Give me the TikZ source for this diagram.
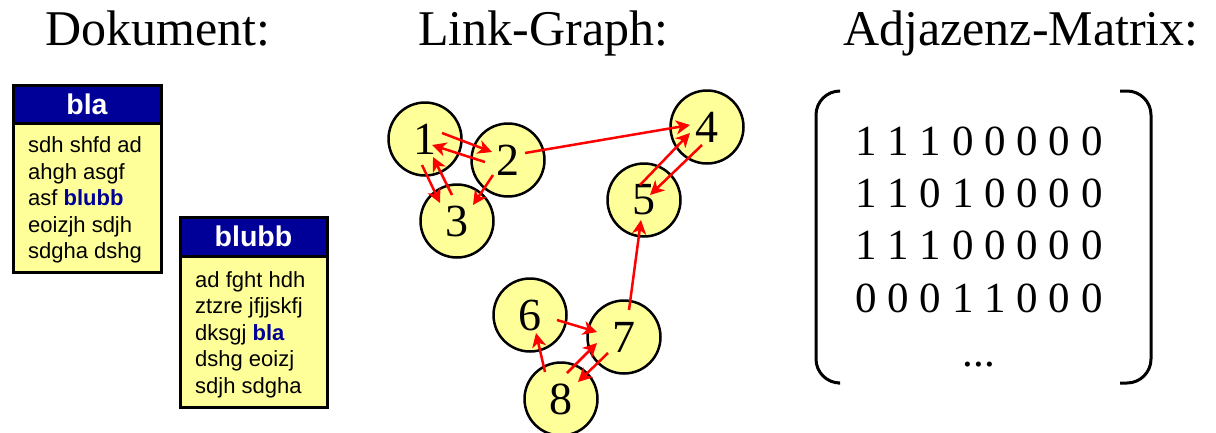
\documentclass[tikz,border=0pt]{standalone}
\usepackage{fontspec}
\setmainfont{Liberation Serif}
\newfontfamily\arialfont{Liberation Sans}
\usetikzlibrary{calc,arrows.meta}
\definecolor{paleyellow}{HTML}{FFFF99}
\definecolor{headblue}{HTML}{000099}
\begin{document}
\begin{tikzpicture}[x=1pt,y=-1pt,
  title/.style={font=\fontsize{50}{60}\selectfont, anchor=base west, inner sep=0},
  boxframe/.style={draw=black, line width=3pt, fill=paleyellow},
  headframe/.style={draw=black, line width=3pt, fill=headblue},
  headtext/.style={font=\arialfont\bfseries\fontsize{28.5}{32}\selectfont, text=white, anchor=base, inner sep=0},
  bodytext/.style={font=\arialfont\fontsize{22}{26.5}\selectfont, align=left, anchor=base west, inner sep=0},
  vertex/.style={circle, draw=black, line width=2.5pt, fill=paleyellow, minimum size=73pt, inner sep=0,
    font=\fontsize{46}{46}\selectfont},
  link/.style={draw=red, line width=2.5pt, -{Stealth[length=14pt,width=14pt,inset=4pt]}},
  paren/.style={draw=black, line width=3pt, rounded corners=24pt},
  matrow/.style={font=\fontsize{43}{43}\selectfont, anchor=base, inner sep=0}
]
\useasboundingbox (0,0) rectangle (1216,432);

% headings
\node[title] (tdoc) at (45,45) {Dokument:};
\node[title] (tgraph) at (418,45) {Link-Graph:};
\node[title] (tmat) at (843,45) {Adjazenz-Matrix:};

% document "bla" (body text placed by the baseline of its last line)
\path[boxframe] (13,123) rectangle (161,272);
\path[headframe] (13,85) rectangle (161,123);
\node[headtext] (hbla) at (87,114) {bla};
\node[bodytext] (tbla) at (28,258.5) {sdh shfd ad\\ahgh asgf\\asf \textcolor{headblue}{\bfseries blubb}\\eoizjh sdjh\\sdgha dshg};

% document "blubb"
\path[boxframe] (180,256) rectangle (327,407);
\path[headframe] (180,217) rectangle (327,256);
\node[headtext] (hblubb) at (253.5,246) {blubb};
\node[bodytext] (tblubb) at (195,393) {ad fght hdh\\ztzre jfjjskfj\\dksgj \textcolor{headblue}{\bfseries bla}\\dshg eoizj\\sdjh sdgha};

% link graph
\node[vertex] (n1) at (425,139) {1};
\node[vertex] (n2) at (508,160) {2};
\node[vertex] (n3) at (457,221) {3};
\node[vertex] (n4) at (707,127) {4};
\node[vertex] (n5) at (644,200) {5};
\node[vertex] (n6) at (530,315) {6};
\node[vertex] (n7) at (624,337) {7};
\node[vertex] (n8) at (561,399) {8};

\draw[link] ($(n1)+(17,-6)$) -- ($(n2)+(-16,-8)$);
\draw[link] ($(n2)+(-23,2)$) -- ($(n1)+(7,6)$);
\draw[link] ($(n1)+(-3,26)$) -- ($(n3)+(-17,-18)$);
\draw[link] ($(n3)+(-5,-26)$) -- ($(n1)+(8,18)$);
\draw[link] ($(n2)+(-15,15)$) -- ($(n3)+(16,-16)$);
\draw[link] ($(n2)+(17,-7)$) -- ($(n4)+(-17,-2)$);
\draw[link] ($(n5)+(-4,-15)$) -- ($(n4)+(-17,6)$);
\draw[link] ($(n4)+(-5,18)$) -- ($(n5)+(6,-5)$);
\draw[link] ($(n7)+(5,-27)$) -- ($(n5)+(-3,20)$);
\draw[link] ($(n6)+(27,5)$) -- ($(n7)+(-27,-5)$);
\draw[link] ($(n8)+(-16,-27)$) -- ($(n6)+(6,18)$);
\draw[link] ($(n8)+(6,-26)$) -- ($(n7)+(-27,6)$);
\draw[link] ($(n7)+(-16,16)$) -- ($(n8)+(17,-17)$);

% adjacency matrix
\draw[paren] (838,91) -- (816,91) -- (816,383) -- (838,383);
\draw[paren] (1120,91) -- (1151,91) -- (1151,383) -- (1120,383);
\node[matrow] (r1) at (979,155) {1 1 1 0 0 0 0 0};
\node[matrow] (r2) at (979,207) {1 1 0 1 0 0 0 0};
\node[matrow] (r3) at (979,259) {1 1 1 0 0 0 0 0};
\node[matrow] (r4) at (979,312) {0 0 0 1 1 0 0 0};
\node[matrow] (r5) at (979,366) {...};
\end{tikzpicture}
\end{document}
